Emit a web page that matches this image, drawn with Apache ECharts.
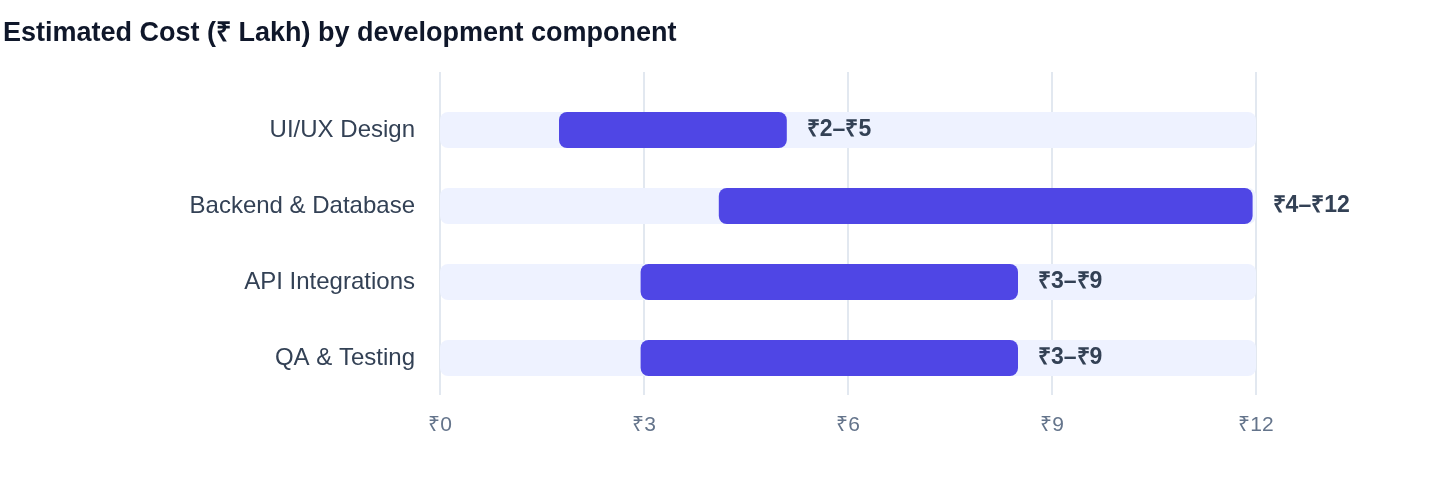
<!DOCTYPE html>
<html lang="en">
<head>
    <meta charset="UTF-8">
    <title>Estimated Cost by development component</title>
    <script src="https://cdn.jsdelivr.net/npm/echarts@6/dist/echarts.min.js"></script>
    <style>
        html, body { margin: 0; padding: 0; background: #fff; }
        #main { width: 1440px; height: 484px; }
    </style>
</head>
<body>
<div id="main"></div>
<script>
    // 数据
    var components = ['UI/UX Design', 'Backend & Database', 'API Integrations', 'QA & Testing'];
    var costLow = [1.75, 4.1, 2.95, 2.95];
    var costHigh = [5.1, 11.95, 8.5, 8.5];
    var axisMax = 12;

    var font = '"Liberation Sans", Arial, Helvetica, sans-serif';

    var myChart = echarts.init(document.getElementById('main'));

    var option = {
        animation: false,
        title: {
            text: 'Estimated Cost (₹ Lakh) by development component',
            left: -2,
            top: 15,
            textStyle: { fontFamily: font, fontSize: 27, fontWeight: 'bold', color: '#0f172a' }
        },
        grid: [
            // bars
            { left: 440, right: 184, top: 92, bottom: 88 },
            // grid lines only (taller than bar area)
            { left: 440, right: 184, top: 72, bottom: 89 }
        ],
        xAxis: [
            {
                gridIndex: 0, type: 'value', min: 0, max: axisMax, interval: 3,
                axisLine: { show: false }, axisTick: { show: false },
                splitLine: { show: false },
                axisLabel: {
                    margin: 19, color: '#64748b', fontSize: 21, fontFamily: font,
                    formatter: function (v) { return '₹' + v; }
                }
            },
            {
                gridIndex: 1, type: 'value', min: 0, max: axisMax, interval: 3,
                axisLine: { show: false }, axisTick: { show: false },
                axisLabel: { show: false },
                splitLine: { show: true, lineStyle: { color: '#e2e8f0', width: 2 } }
            }
        ],
        yAxis: [
            {
                gridIndex: 0, type: 'category', data: components, inverse: true,
                axisLine: { show: false }, axisTick: { show: false },
                axisLabel: { margin: 25, color: '#334155', fontSize: 24, fontFamily: font }
            },
            {
                gridIndex: 1, type: 'category', data: components, show: false
            }
        ],
        series: [
            {
                name: 'track', type: 'bar', xAxisIndex: 0, yAxisIndex: 0,
                data: components.map(function () { return axisMax; }),
                barWidth: 36, barGap: '-100%', silent: true,
                itemStyle: { color: '#eef2ff', borderRadius: 8 }
            },
            {
                name: 'base', type: 'bar', stack: 'range', xAxisIndex: 0, yAxisIndex: 0,
                data: costLow, barWidth: 36, silent: true,
                itemStyle: { color: 'transparent' }
            },
            {
                name: 'range', type: 'bar', stack: 'range', xAxisIndex: 0, yAxisIndex: 0,
                data: costHigh.map(function (h, i) { return +(h - costLow[i]).toFixed(2); }),
                barWidth: 36, barGap: '-100%',
                itemStyle: { color: '#4f46e5', borderRadius: 8 },
                label: {
                    show: true, position: 'right', distance: 20,
                    color: '#334155', fontSize: 23, fontWeight: 'bold', fontFamily: font,
                    formatter: function (p) {
                        var i = p.dataIndex;
                        return '₹' + Math.round(costLow[i]) + '–₹' + Math.round(costHigh[i]);
                    }
                }
            }
        ]
    };

    myChart.setOption(option);
</script>
</body>
</html>
